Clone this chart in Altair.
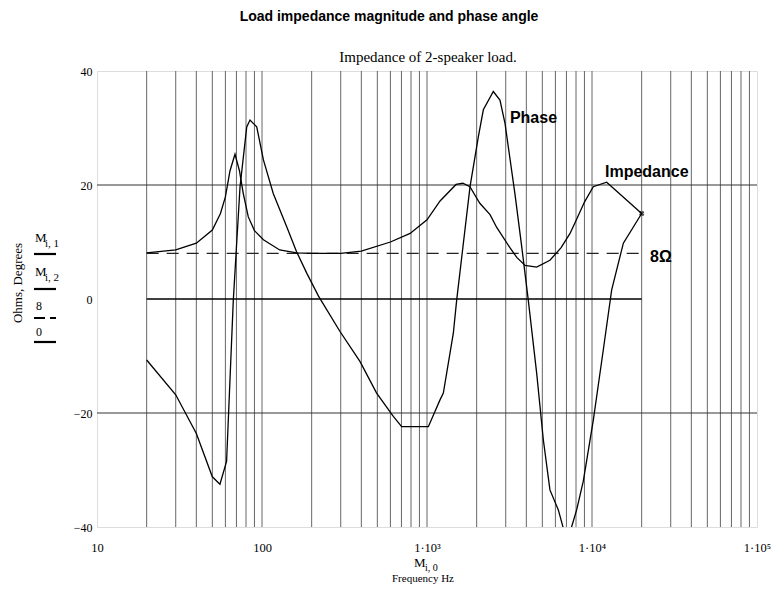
import altair as alt
import pandas as pd

# ---------------- data ----------------
imp_freq = [20, 30, 40, 50, 56, 60, 64, 68.6, 73, 77, 82.6, 90, 102, 128, 162, 200, 300, 400,
            600, 790, 1000, 1200, 1500, 1650, 1820, 2090, 2410, 2640, 3180, 3500, 3930, 4620,
            5560, 6500, 7360, 8070, 9000, 10180, 12270, 20000]
imp_ohm = [8.1, 8.6, 9.8, 12.1, 15.0, 17.9, 22.5, 25.4, 22.5, 18.5, 14.4, 12.0, 10.4, 8.6, 8.1, 8.0, 8.0, 8.4,
           10.0, 11.5, 13.9, 17.2, 20.1, 20.3, 19.7, 16.8, 14.8, 12.6, 9.0, 7.3, 5.9, 5.6,
           6.8, 9.0, 11.5, 14.0, 17.0, 19.7, 20.5, 15.0]

ph_freq = [20, 30, 40, 50, 55.6, 61, 67, 73.6, 80.8, 84.6, 92.9, 102, 117, 141, 162, 187, 220, 297, 393,
           495, 625, 702, 1019, 1199, 1256, 1444, 1513, 1823, 2048, 2195, 2523, 2768, 2970, 3410,
           3750, 4110, 4620, 5070, 5560, 6250, 6700, 7100, 7520, 8070, 8850, 10190, 11710, 13160,
           15490, 20000]
ph_deg = [-10.7, -16.8, -23.6, -31.2, -32.5, -28.5, -0.2, 19.7, 30.2, 31.4, 30.2, 24.4, 18.5, 12.7, 8.3, 4.5, 0.5, -5.7, -11.0,
          -16.5, -20.6, -22.4, -22.4, -17.7, -16.5, -6.0, -0.2, 19.7, 28.5, 33.2, 36.4, 34.9, 30.8, 18.5,
          9.2, -0.2, -13.0, -24.7, -33.5, -37.0, -40.2, -43.0, -40.0, -37.0, -32.0, -21.2, -8.9, 1.6,
          9.8, 15.0]

grid_freq = [20, 30, 40, 50, 60, 70, 80, 90, 100,
             200, 300, 400, 500, 600, 700, 800, 900, 1000,
             2000, 3000, 4000, 5000, 6000, 7000, 8000, 9000, 10000,
             20000, 30000, 40000, 50000, 60000, 70000, 80000, 90000]
grid_level = [-20, 20]
trace_freq = [20, 20000]
ref_ohm = [8, 8]
zero_level = [0, 0]

x_ticks = [10, 100, 1000, 10000, 100000]
x_tick_labels = ["10", "100", "1·10³", "1·10⁴", "1·10⁵"]
y_ticks = [-40, -20, 0, 20, 40]
y_tick_labels = ["−40", "−20", "0", "20", "40"]

SERIF = "Liberation Serif"
SANS = "Liberation Sans"


def label_expr(vals, labs):
    expr = "''"
    for v, l in reversed(list(zip(vals, labs))):
        expr = f"datum.value == {v} ? '{l}' : {expr}"
    return expr


xs = alt.Scale(type="log", domain=[10, 100000])
ys = alt.Scale(domain=[-40, 40], nice=False)

x_axis = alt.Axis(values=x_ticks, labelExpr=label_expr(x_ticks, x_tick_labels), title=None,
                  labelFont=SERIF, labelFontSize=12.5, labelColor="black", labelPadding=14,
                  labelFlush=False, labelOverlap=False, ticks=False, domain=False, grid=False)
y_axis = alt.Axis(values=y_ticks, labelExpr=label_expr(y_ticks, y_tick_labels), title=None,
                  labelFont=SERIF, labelFontSize=12, labelColor="black", labelPadding=5,
                  labelOverlap=False, ticks=False, domain=False, grid=False)

df_imp = pd.DataFrame({"freq": imp_freq, "val": imp_ohm})
df_ph = pd.DataFrame({"freq": ph_freq, "val": ph_deg})
df_grid = pd.DataFrame({"freq": grid_freq})
df_hgrid = pd.DataFrame({"val": grid_level})
df_ref = pd.DataFrame({"freq": trace_freq, "val": ref_ohm})
df_zero = pd.DataFrame({"freq": trace_freq, "val": zero_level})
df_end = pd.DataFrame({"freq": [imp_freq[-1]], "val": [imp_ohm[-1]]})


def X():
    return alt.X("freq:Q", scale=xs, axis=x_axis)


def Y():
    return alt.Y("val:Q", scale=ys, axis=y_axis)


vgrid = alt.Chart(df_grid).mark_rule(color="#555555", strokeWidth=0.9).encode(x=X())
hgrid = alt.Chart(df_hgrid).mark_rule(color="#333333", strokeWidth=1).encode(y=Y())

zero = alt.Chart(df_zero).mark_line(color="black", strokeWidth=1.4).encode(x=X(), y=Y())
ref8 = alt.Chart(df_ref).mark_line(color="#222222", strokeWidth=1.2, strokeDash=[12, 8]).encode(x=X(), y=Y())

imp = alt.Chart(df_imp).mark_line(color="black", strokeWidth=1.3).encode(x=X(), y=Y())
ph = alt.Chart(df_ph).mark_line(color="black", strokeWidth=1.3, clip=True).encode(x=X(), y=Y())
end_mark = alt.Chart(df_end).mark_point(shape="cross", angle=45, size=30, color="black",
                                         filled=True).encode(x=X(), y=Y())

# annotations in data coordinates
ann_df = pd.DataFrame({
    "freq": [3180, 11990, 22480],
    "val": [31.7, 22.3, 7.4],
    "txt": ["Phase", "Impedance", "8Ω"],
})
ann = alt.Chart(ann_df).mark_text(font=SANS, fontSize=16, fontWeight="bold", align="left",
                                  baseline="middle", color="black").encode(
    x=X(), y=Y(), text="txt:N")


def txt(s, px, py, size=12, font=SERIF, weight="normal", align="center", angle=0):
    # px, py are page coordinates; the plot origin sits at (97, 71)
    return alt.Chart(pd.DataFrame({"t": [s]})).mark_text(
        font=font, fontSize=size, fontWeight=weight, align=align, baseline="middle",
        color="black", angle=angle,
    ).encode(x=alt.value(px - 97), y=alt.value(py - 71), text="t:N")


def seg(x1, x2, py, width=2.2, dash=None):
    kw = dict(color="black", strokeWidth=width)
    if dash:
        kw["strokeDash"] = dash
    return alt.Chart(pd.DataFrame({"a": [0]})).mark_rule(**kw).encode(
        x=alt.value(x1 - 97), x2=alt.value(x2 - 97), y=alt.value(py - 71))


decor = [
    txt("Load impedance magnitude and phase angle", 389, 17, size=14, font=SANS, weight="bold"),
    txt("Impedance of 2-speaker load.", 428, 57, size=15),
    txt("Ohms, Degrees", 18, 283, size=13, angle=270),
    txt("M", 35, 238, size=13, align="left"),
    txt("i, 1", 45, 244, size=11, align="left"),
    seg(34, 56, 254),
    txt("M", 35, 272, size=13, align="left"),
    txt("i, 2", 45, 278, size=11, align="left"),
    seg(34, 56, 289),
    txt("8", 36, 306, size=12, align="left"),
    seg(34, 56, 318, dash=[11, 5]),
    txt("0", 36, 332, size=12, align="left"),
    seg(34, 56, 342),
    txt("M", 414, 563, size=13, align="left"),
    txt("i, 0", 425, 568, size=10, align="left"),
    txt("Frequency  Hz", 423, 579, size=11),
]

chart = alt.layer(vgrid, hgrid, zero, ref8, imp, ph, end_mark, ann, *decor).properties(
    width=660, height=456,
    autosize=alt.AutoSizeParams(type="none"),
    padding={"left": 89, "top": 63, "right": 14, "bottom": 58},
).configure_view(stroke="black", strokeWidth=1.6).configure(background="white")

chart.save("out.html", embed_options={"renderer": "svg", "actions": False})
